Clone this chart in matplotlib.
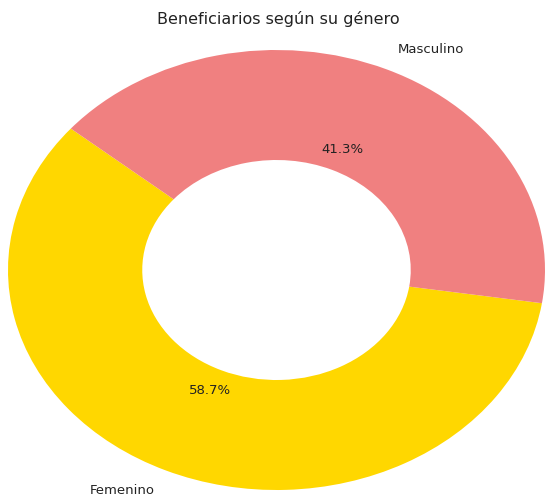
import matplotlib.pyplot as plt

# datos del grafico
generos = ["Femenino", "Masculino"]
porcentajes = [58.7, 41.3]
colores = ["gold", "lightcoral"]

fig = plt.figure(figsize=(5.45, 4.99), dpi=100)
# el anillo sale estirado en horizontal, igual que en la imagen original
ax = fig.add_axes([8 / 545, 9 / 499, 537 / 545, 440 / 499])

ax.pie(porcentajes, labels=generos, colors=colores, autopct="%1.1f%%",
       startangle=140, wedgeprops=dict(width=0.5),
       textprops=dict(fontsize=9.5, color="#222222"))
ax.set_aspect("auto")
ax.set_xlim(-1, 1)
ax.set_ylim(-1, 1)

fig.text(278 / 545, 1 - 19 / 499, "Beneficiarios según su género",
         ha="center", va="center", fontsize=11.5, color="#222222")

plt.savefig("out.png")
